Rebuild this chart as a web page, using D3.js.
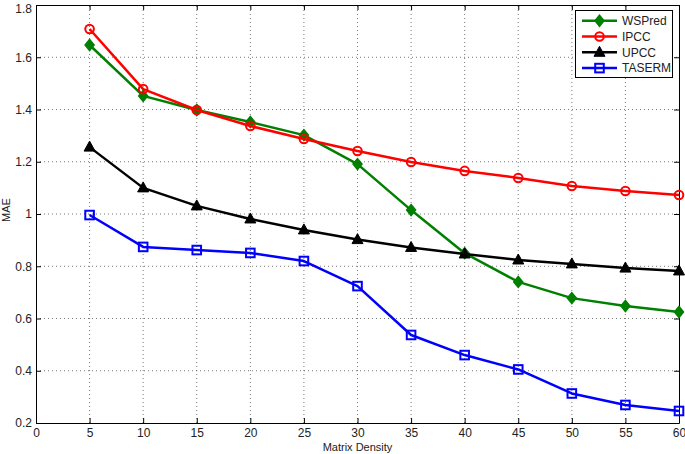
<!DOCTYPE html>
<html>
<head>
<meta charset="utf-8">
<script src="https://cdn.jsdelivr.net/npm/d3@7"></script>
<style>
  body { margin: 0; background: #fff; }
  text { font-family: "Liberation Sans", Arial, sans-serif; }
</style>
</head>
<body>
<script>
const width = 685, height = 454;

const density = [5, 10, 15, 20, 25, 30, 35, 40, 45, 50, 55, 60];
const wspred = [1.647, 1.452, 1.398, 1.352, 1.302, 1.191, 1.015, 0.850, 0.740, 0.678, 0.648, 0.625];
const ipcc   = [1.708, 1.478, 1.398, 1.337, 1.287, 1.241, 1.199, 1.165, 1.138, 1.107, 1.088, 1.073];
const upcc   = [1.256, 1.100, 1.031, 0.981, 0.939, 0.902, 0.872, 0.847, 0.824, 0.809, 0.793, 0.782];
const taserm = [0.996, 0.874, 0.862, 0.851, 0.820, 0.724, 0.537, 0.460, 0.405, 0.313, 0.269, 0.246];

const xTicks = [0, 5, 10, 15, 20, 25, 30, 35, 40, 45, 50, 55, 60];
const yTicks = [0.2, 0.4, 0.6, 0.8, 1, 1.2, 1.4, 1.6, 1.8];

const series = [
  {name: "WSPred", values: wspred, color: "#008000", marker: "diamond"},
  {name: "IPCC", values: ipcc, color: "#ff0000", marker: "circle"},
  {name: "UPCC", values: upcc, color: "#000000", marker: "triangle"},
  {name: "TASERM", values: taserm, color: "#0000ff", marker: "square"}
];

const margin = {left: 36, right: 6, top: 5, bottom: 31};

const svg = d3.select("body").append("svg")
    .attr("width", width)
    .attr("height", height);

const x = d3.scaleLinear().domain([0, 60]).range([margin.left, width - margin.right]);
const y = d3.scaleLinear().domain([0.2, 1.8]).range([height - margin.bottom, margin.top]);

// grid
const grid = svg.append("g").attr("stroke", "#555").attr("stroke-width", 0.8)
    .attr("stroke-dasharray", "1,3");
grid.selectAll("line.gx").data(xTicks.slice(1, -1)).enter().append("line")
    .attr("x1", d => x(d)).attr("x2", d => x(d))
    .attr("y1", y(0.2)).attr("y2", y(1.8));
grid.selectAll("line.gy").data(yTicks.slice(1, -1)).enter().append("line")
    .attr("y1", d => y(d)).attr("y2", d => y(d))
    .attr("x1", x(0)).attr("x2", x(60));

// axes with inward ticks
const fmt = d => d3.format("")(+d.toFixed(1));
const axB = svg.append("g").attr("transform", `translate(0,${y(0.2)})`)
    .call(d3.axisBottom(x).tickValues(xTicks).tickSizeInner(-5).tickSizeOuter(0).tickPadding(5));
const axT = svg.append("g").attr("transform", `translate(0,${y(1.8)})`)
    .call(d3.axisTop(x).tickValues(xTicks).tickSizeInner(-5).tickSizeOuter(0).tickFormat(""));
const axL = svg.append("g").attr("transform", `translate(${x(0)},0)`)
    .call(d3.axisLeft(y).tickValues(yTicks).tickSizeInner(-5).tickSizeOuter(0).tickPadding(4).tickFormat(fmt));
const axR = svg.append("g").attr("transform", `translate(${x(60)},0)`)
    .call(d3.axisRight(y).tickValues(yTicks).tickSizeInner(-5).tickSizeOuter(0).tickFormat(""));
[axB, axT, axL, axR].forEach(a => {
  a.select(".domain").attr("stroke", "#000").attr("stroke-width", 1);
  a.selectAll(".tick line").attr("stroke", "#000");
  a.selectAll("text").attr("font-size", 12).attr("fill", "#222")
    .style("font-family", "'Liberation Sans', Arial, sans-serif");
});
// keep the top label inside the page
axL.selectAll(".tick text").filter(d => d === 1.8).attr("dy", "0.62em");

// lines
const line = d3.line().x((d, i) => x(density[i])).y(d => y(d));

function drawMarker(g, type, color) {
  if (type === "circle") {
    g.append("circle").attr("r", 4.3).attr("fill", "none").attr("stroke", color).attr("stroke-width", 2);
  } else if (type === "square") {
    g.append("rect").attr("x", -4.3).attr("y", -4.3).attr("width", 8.6).attr("height", 8.6)
      .attr("fill", "none").attr("stroke", color).attr("stroke-width", 2);
  } else if (type === "diamond") {
    g.append("path").attr("d", "M0,-5.5L4.5,0L0,5.5L-4.5,0Z")
      .attr("fill", color).attr("stroke", color).attr("stroke-width", 1.5);
  } else if (type === "triangle") {
    g.append("path").attr("d", "M0,-6L5.5,4L-5.5,4Z")
      .attr("fill", color).attr("stroke", color).attr("stroke-width", 1);
  }
}

series.forEach(s => {
  svg.append("path").datum(s.values)
    .attr("fill", "none").attr("stroke", s.color).attr("stroke-width", 2.5)
    .attr("stroke-linejoin", "round")
    .attr("d", line);
  s.values.forEach((v, i) => {
    const g = svg.append("g").attr("transform", `translate(${x(density[i])},${y(v)})`);
    drawMarker(g, s.marker, s.color);
  });
});

// legend
const leg = svg.append("g");
leg.append("rect").attr("x", 575.5).attr("y", 10.5).attr("width", 97).attr("height", 67)
  .attr("fill", "#fff").attr("stroke", "#000").attr("stroke-width", 1);
series.forEach((s, i) => {
  const ly = 20.7 + i * 15.8;
  leg.append("line").attr("x1", 582).attr("x2", 617).attr("y1", ly).attr("y2", ly)
    .attr("stroke", s.color).attr("stroke-width", 2.5);
  const g = leg.append("g").attr("transform", `translate(599.5,${ly})`);
  drawMarker(g, s.marker, s.color);
  leg.append("text").attr("x", 622).attr("y", ly).attr("dy", "0.35em")
    .attr("font-size", 12).attr("fill", "#222").text(s.name);
});

// axis titles
svg.append("text").attr("x", (x(0) + x(60)) / 2).attr("y", 451)
  .attr("text-anchor", "middle").attr("font-size", 11).attr("fill", "#222").text("Matrix Density");
svg.append("text").attr("transform", `translate(6,210) rotate(-90)`)
  .attr("text-anchor", "middle").attr("dy", "0.35em").attr("font-size", 11).attr("fill", "#222").text("MAE");
</script>
</body>
</html>
